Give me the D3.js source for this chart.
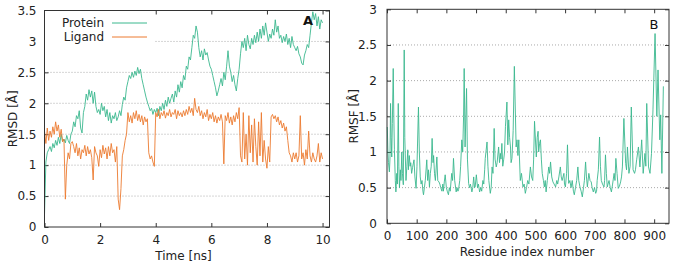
<!DOCTYPE html>
<html>
<head>
<meta charset="utf-8">
<script src="https://cdn.jsdelivr.net/npm/d3@7"></script>
<style>
  html, body { margin: 0; padding: 0; background: #fff; }
  svg { display: block; font-family: "DejaVu Sans", Verdana, sans-serif; }
</style>
</head>
<body>
<svg id="chart" width="673" height="266"></svg>
<script>
// ---- data ----
const timeStep = 0.05; // ns between RMSD samples

const proteinRmsd = [
  0.2, 1.05, 1.2, 1.25, 1.3, 1.22, 1.35, 1.28, 1.4, 1.32, 1.45, 1.35, 1.5, 1.38, 1.42, 1.36, 1.48, 1.4, 1.35, 1.5,
  1.55, 1.7, 1.62, 1.8, 1.75, 1.88, 1.6, 1.52, 1.85, 1.95, 2.15, 2.05, 2.22, 2.1, 2.2, 2.0, 2.18, 1.95, 1.85, 1.9,
  1.82, 2.0, 1.88, 1.95, 1.78, 1.9, 1.72, 1.85, 1.68, 1.8, 1.75, 1.85, 1.72, 1.78, 1.88, 1.8, 1.98, 2.1, 2.05, 2.25,
  2.35, 2.45, 2.4, 2.5, 2.42, 2.52, 2.45, 2.58, 2.48, 2.55, 2.4, 2.3, 2.2, 2.1, 2.02, 1.95, 1.88, 1.92, 1.82, 1.9,
  1.85, 1.92, 1.8, 1.95, 1.88, 2.0, 1.9, 2.05, 1.95, 2.1, 2.0, 2.08, 2.15, 2.02, 2.2, 2.1, 2.3, 2.18, 2.35, 2.25,
  2.45, 2.38, 2.6, 2.55, 2.75, 2.7, 2.9, 3.1, 3.05, 3.25, 3.15, 2.9, 2.75, 2.85, 2.7, 2.88, 2.78, 2.82, 2.7, 2.6,
  2.55, 2.45, 2.35, 2.25, 2.12, 2.2, 2.3, 2.4, 2.28, 2.5, 2.38, 2.6, 2.85, 2.6, 2.5, 2.35, 2.45, 2.3, 2.2, 2.4,
  2.55, 2.8, 3.0, 2.9, 3.05, 2.85, 3.1, 2.95, 2.88, 3.05, 2.95, 3.1, 2.98, 3.15, 3.0, 3.2, 3.05, 3.25, 3.1, 3.3,
  3.15, 3.0, 3.12, 3.05, 3.2, 3.1, 3.35, 3.15, 3.25, 3.05, 3.1, 2.98, 3.08, 3.0, 3.12, 2.95, 3.05, 2.9, 3.08, 2.95,
  2.9, 2.85, 2.92, 2.8, 2.75, 2.65, 2.62, 2.78, 2.85, 2.95, 2.9, 3.1, 3.3, 3.48, 3.35, 3.45, 3.25, 3.4, 3.2, 3.35, 3.3
];

const ligandRmsd = [
  1.55, 1.35, 1.6, 1.4, 1.55, 1.45, 1.62, 1.5, 1.7, 1.55, 1.65, 1.45, 1.58, 1.38, 1.42, 0.45, 1.0, 1.2, 1.1, 1.35,
  1.38, 1.3, 1.2, 1.35, 1.15, 1.28, 1.1, 1.25, 1.2, 1.32, 1.15, 1.3, 1.18, 1.25, 1.12, 0.76, 1.3, 1.2, 1.15, 0.98,
  1.25, 1.12, 1.32, 1.18, 1.28, 1.1, 1.3, 1.15, 1.35, 1.2, 1.25, 1.05, 1.3, 0.45, 0.28, 0.62, 1.15, 1.25, 1.4, 1.5,
  1.85, 1.7, 1.8, 1.68, 1.85, 1.75, 1.88, 1.72, 1.82, 1.7, 1.8, 1.65, 1.78, 1.7, 1.75, 1.2, 1.1, 1.15, 1.05, 0.98,
  1.85, 1.78, 1.9, 1.75, 1.85, 1.8, 1.88, 1.76, 1.85, 1.8, 1.9, 1.78, 1.85, 1.82, 1.9, 1.75, 1.88, 1.8, 1.85, 1.78,
  1.88, 1.8, 1.9, 1.82, 1.95, 1.85, 1.92, 1.8, 2.08, 1.9, 1.85, 1.95, 1.8, 1.88, 1.75, 1.85, 1.78, 1.9, 1.72, 1.82,
  1.75, 1.85, 1.7, 1.8, 1.68, 1.78, 1.72, 1.82, 1.7, 1.02, 1.8, 1.72, 1.85, 1.68, 1.78, 1.65, 1.8, 1.7, 1.85, 1.75,
  1.93, 1.15, 1.05, 1.85, 1.1, 1.5, 1.0, 1.8, 1.2, 1.65, 1.05, 1.75, 1.3, 1.0, 1.7, 1.15, 1.85, 1.05, 1.4, 1.1,
  0.95, 1.3, 1.05, 1.78, 1.82, 1.75, 1.8, 1.7, 1.78, 1.65, 1.72, 1.6, 1.68, 1.55, 1.62, 1.4, 1.2, 1.15, 1.05, 1.2,
  1.1, 1.2, 1.05, 1.15, 1.8, 1.1, 1.2, 1.0, 1.25, 1.1, 1.55, 1.15, 1.05, 1.2, 1.1, 1.05, 1.15, 1.35, 1.05, 1.2, 1.1
];

const residues = [
  1, 3, 5, 8, 10, 12, 14, 16, 18, 21, 23, 25, 28, 30,
  33, 35, 38, 40, 42, 45, 47, 50, 52, 55, 58, 60,
  64, 67, 70, 72, 75, 78, 80, 83, 86, 91, 94, 98,
  101, 106, 109, 112, 115, 118, 121, 123, 126, 129,
  134, 137, 140, 143, 146, 149, 152, 155, 157, 160, 163, 168, 171, 175, 178, 181, 185, 188, 190, 193, 196, 200,
  203, 207, 210, 213, 218, 221, 224, 228, 233, 236, 239, 241, 245, 248, 252, 255, 258, 260,
  263, 268, 271, 275, 278, 281, 286, 289, 292, 295, 297, 301,
  305, 308, 312, 316, 319, 323, 326, 329, 331, 337, 340, 343, 348, 351, 354, 357, 361,
  364, 368, 371, 376, 379, 382, 384, 387, 390, 393, 396, 399, 404, 407, 410, 413, 416, 418, 421, 425, 429,
  435, 438, 441, 444, 449, 453, 458, 462, 466, 470, 474, 478, 483, 487, 491, 494, 497,
  503, 506, 509, 511, 514, 517, 520, 523, 527, 530, 533, 536, 540, 545, 548, 551, 555, 559,
  563, 568, 572, 575, 579, 584, 587, 590, 596, 598, 601, 605, 608, 612, 616, 620, 624, 628, 631, 635, 639,
  643, 646, 650, 654, 658, 662, 665, 669, 672, 675, 680, 684, 688, 691, 695, 699, 703, 706, 708, 712, 716, 719,
  722, 726, 731, 733, 736, 739, 742, 748, 752, 756, 760, 765, 768, 771, 775, 779, 783, 787, 790, 793, 798,
  804, 807, 810, 815, 819, 823, 829, 834, 837, 841, 847, 852, 858, 863, 869, 872, 875, 881, 886, 891, 896,
  903, 909, 913, 919, 922, 926, 931
];

const rmsf = [
  1.35, 1.0, 0.85, 0.72, 0.9, 1.68, 1.2, 0.93, 1.4, 2.17, 1.5, 1.03, 0.6, 0.44,
  0.7, 0.55, 1.68, 0.8, 0.5, 0.75, 0.6, 1.0, 0.7, 0.54, 2.43, 1.2,
  0.6, 0.8, 1.03, 0.75, 0.95, 0.8, 0.85, 0.7, 0.78, 0.89, 0.65, 0.49,
  0.8, 1.63, 1.0, 0.65, 0.55, 0.6, 0.45, 0.4, 0.5, 0.6,
  0.89, 0.6, 0.75, 0.51, 0.7, 0.8, 1.19, 0.85, 0.95, 0.7, 0.6, 0.93, 0.6, 0.58, 0.55, 0.5, 0.45, 0.55, 0.45, 0.58, 0.68, 0.5,
  0.45, 0.4, 0.5, 0.45, 0.7, 0.6, 0.91, 0.6, 0.44, 0.5, 0.45, 0.47, 0.6, 0.8, 1.17, 1.0, 1.5, 2.17,
  1.07, 1.89, 0.9, 0.56, 0.5, 0.55, 0.44, 0.5, 0.65, 0.5, 0.51, 0.68,
  0.5, 0.55, 0.44, 0.5, 0.45, 0.6, 0.55, 0.75, 0.91, 1.14, 0.8, 0.6, 0.42, 0.5, 0.79, 0.7, 1.33,
  0.9, 0.79, 0.85, 1.07, 0.85, 0.98, 0.9, 1.12, 0.8, 0.89, 1.0, 1.36, 1.7, 1.1, 1.45, 1.2, 1.07, 0.85, 0.91, 1.3, 2.2,
  1.07, 1.17, 0.95, 1.17, 0.6, 0.7, 0.51, 0.55, 0.42, 0.5, 0.6, 0.55, 0.79, 0.65, 0.6, 0.9, 1.43,
  0.93, 1.2, 1.29, 1.0, 1.12, 1.17, 0.9, 0.7, 0.6, 0.51, 0.6, 0.44, 0.6, 0.79, 0.7, 0.86, 0.65, 0.58,
  0.55, 0.51, 0.6, 0.55, 0.65, 0.79, 0.65, 0.6, 0.7, 0.55, 0.51, 0.7, 1.1, 0.56, 0.6, 0.5, 0.6, 0.45, 0.4, 0.5, 0.6,
  0.79, 0.6, 0.51, 0.45, 0.37, 0.5, 0.6, 0.86, 0.65, 0.51, 0.7, 0.6, 0.58, 0.5, 0.44, 0.5, 0.42, 0.45, 0.6, 0.75, 1.21, 0.8,
  0.6, 0.55, 0.51, 0.6, 0.96, 0.7, 0.51, 0.6, 0.5, 0.44, 0.55, 0.7, 0.6, 0.91, 0.7, 0.49, 0.52, 0.58, 0.65, 0.79, 1.47,
  0.84, 0.75, 1.07, 0.7, 0.8, 1.63, 0.75, 0.7, 0.75, 0.89, 1.07, 0.79, 1.17, 0.7, 0.98, 0.8, 1.68, 0.79, 0.7, 0.98, 1.59,
  2.66, 1.5, 2.15, 1.17, 1.52, 0.7, 1.92
];

const rmsdTicksX = [0, 2, 4, 6, 8, 10];
const rmsdTicksY = [0, 0.5, 1, 1.5, 2, 2.5, 3, 3.5];
const rmsfTicksX = [0, 100, 200, 300, 400, 500, 600, 700, 800, 900];
const rmsfTicksY = [0, 0.5, 1, 1.5, 2, 2.5, 3];

const proteinColor = "#3bb88e";
const ligandColor = "#ec7a30";
const borderColor = "#333";
const tickLen = 4;

const svg = d3.select("#chart");

/**
 * draws a gnuplot-like frame: inward mirrored ticks and a dotted grid
 */
function drawFrame(xScale, yScale, xTicks, yTicks, yPad) {
  const [x0, x1] = xScale.range();
  const [y0, y1] = yScale.range();
  const g = svg.append("g");

  // dotted horizontal grid
  g.selectAll(".grid")
    .data(yTicks.filter(d => d !== yScale.domain()[0] && d !== yScale.domain()[1]))
    .enter().append("line")
    .attr("class", "grid")
    .attr("x1", x0).attr("x2", x1)
    .attr("y1", d => yScale(d)).attr("y2", d => yScale(d))
    .attr("stroke", "#aaa")
    .attr("stroke-width", 1)
    .attr("stroke-dasharray", "1,2");

  const fmt = d3.format("");

  const bottom = g.append("g")
    .attr("transform", `translate(0, ${y0})`)
    .call(d3.axisBottom(xScale).tickValues(xTicks).tickSize(-tickLen).tickSizeOuter(0).tickPadding(8).tickFormat(fmt));
  const top = g.append("g")
    .attr("transform", `translate(0, ${y1})`)
    .call(d3.axisTop(xScale).tickValues(xTicks).tickSize(-tickLen).tickSizeOuter(0).tickFormat(""));
  const left = g.append("g")
    .attr("transform", `translate(${x0}, 0)`)
    .call(d3.axisLeft(yScale).tickValues(yTicks).tickSize(-tickLen).tickSizeOuter(0).tickPadding(yPad).tickFormat(fmt));
  const right = g.append("g")
    .attr("transform", `translate(${x1}, 0)`)
    .call(d3.axisRight(yScale).tickValues(yTicks).tickSize(-tickLen).tickSizeOuter(0).tickFormat(""));

  [bottom, top, left, right].forEach(axis => {
    axis.select(".domain").remove();
    axis.selectAll(".tick line").attr("stroke", borderColor);
    axis.selectAll(".tick text")
      .attr("fill", "#222")
      .style("font-size", "12px")
      .style("font-family", "DejaVu Sans, Verdana, sans-serif");
  });

  return g;
}

function drawBorder(xScale, yScale) {
  const [x0, x1] = xScale.range();
  const [y0, y1] = yScale.range();
  svg.append("rect")
    .attr("x", x0).attr("y", y1)
    .attr("width", x1 - x0).attr("height", y0 - y1)
    .attr("fill", "none")
    .attr("stroke", borderColor)
    .attr("stroke-width", 1);
}

function drawLine(data, xScale, yScale, color) {
  const line = d3.line()
    .x(d => xScale(d[0]))
    .y(d => yScale(d[1]));
  svg.append("path")
    .datum(data)
    .attr("fill", "none")
    .attr("stroke", color)
    .attr("stroke-width", 0.9)
    .attr("stroke-linejoin", "round")
    .attr("d", line);
}

// ---- panel A: RMSD ----
const xA = d3.scaleLinear().domain([0, 10.25]).range([44.5, 329.5]);
const yA = d3.scaleLinear().domain([0, 3.5]).range([227, 10.5]);

drawFrame(xA, yA, rmsdTicksX, rmsdTicksY, 8);

// opaque key box
svg.append("rect")
  .attr("x", 45).attr("y", 11)
  .attr("width", 110).attr("height", 34)
  .attr("fill", "#fff");

drawLine(proteinRmsd.map((v, i) => [i * timeStep, v]), xA, yA, proteinColor);
drawLine(ligandRmsd.map((v, i) => [i * timeStep, v]), xA, yA, ligandColor);
drawBorder(xA, yA);

const key = svg.append("g").style("font-size", "12px").attr("fill", "#222");
[["Protein", proteinColor, 23], ["Ligand", ligandColor, 37]].forEach(([name, color, y]) => {
  key.append("text")
    .attr("x", 104).attr("y", y)
    .attr("dy", "0.35em")
    .attr("text-anchor", "end")
    .text(name);
  key.append("line")
    .attr("x1", 112).attr("x2", 147)
    .attr("y1", y).attr("y2", y)
    .attr("stroke", color)
    .attr("stroke-width", 1);
});

svg.append("text")
  .attr("x", 308).attr("y", 25)
  .attr("text-anchor", "middle")
  .style("font-size", "13px").style("font-weight", "bold")
  .attr("fill", "#111")
  .text("A");

svg.append("text")
  .attr("x", (xA.range()[0] + xA(10)) / 2).attr("y", 260)
  .attr("text-anchor", "middle")
  .style("font-size", "12px").attr("fill", "#222")
  .text("Time [ns]");

svg.append("text")
  .attr("transform", `translate(13, ${(yA.range()[0] + yA.range()[1]) / 2}) rotate(-90)`)
  .attr("text-anchor", "middle")
  .attr("dy", "0.35em")
  .style("font-size", "12px").attr("fill", "#222")
  .text("RMSD [Å]");

// ---- panel B: RMSF ----
const xB = d3.scaleLinear().domain([0, 950]).range([387, 669]);
const yB = d3.scaleLinear().domain([0, 3]).range([223.3, 9.3]);

drawFrame(xB, yB, rmsfTicksX, rmsfTicksY, 10);
drawLine(residues.map((r, i) => [r, rmsf[i]]), xB, yB, proteinColor);
drawBorder(xB, yB);

svg.append("text")
  .attr("x", 654).attr("y", 29)
  .attr("text-anchor", "middle")
  .style("font-size", "13px")
  .attr("fill", "#111")
  .text("B");

svg.append("text")
  .attr("x", 527).attr("y", 256)
  .attr("text-anchor", "middle")
  .style("font-size", "12px").attr("fill", "#222")
  .text("Residue index number");

svg.append("text")
  .attr("transform", `translate(354, ${(yB.range()[0] + yB.range()[1]) / 2}) rotate(-90)`)
  .attr("text-anchor", "middle")
  .attr("dy", "0.35em")
  .style("font-size", "12px").attr("fill", "#222")
  .text("RMSF [Å]");
</script>
</body>
</html>
